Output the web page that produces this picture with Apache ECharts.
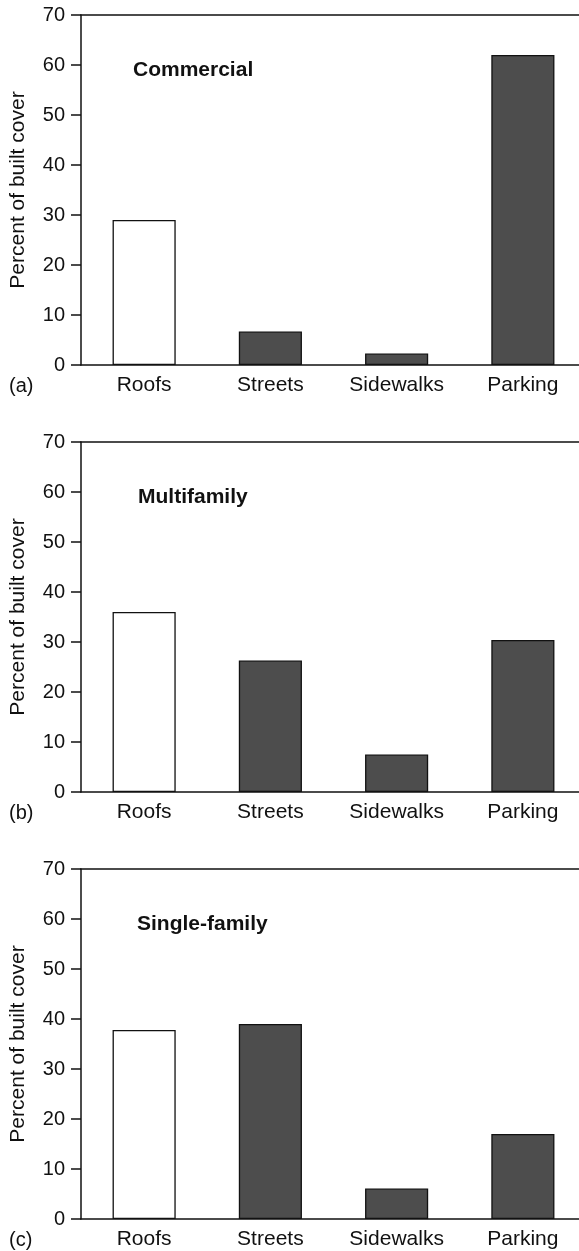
<!DOCTYPE html>
<html>
<head>
<meta charset="utf-8">
<script src="https://cdn.jsdelivr.net/npm/echarts@6/dist/echarts.min.js"></script>
<style>
  html, body { margin: 0; padding: 0; background: #ffffff; }
  #chart { width: 579px; height: 1251px; }
</style>
</head>
<body>
<div id="chart"></div>
<script>
// Built cover composition by land use (percent of built cover)
const categories = ['Roofs', 'Streets', 'Sidewalks', 'Parking'];
const commercial = [29, 6.7, 2.3, 62];
const multifamily = [36, 26.3, 7.5, 30.4];
const singleFamily = [37.8, 39, 6.1, 17];
const panelTitles = ['Commercial', 'Multifamily', 'Single-family'];
const panelLetters = ['(a)', '(b)', '(c)'];
const yTicks = [0, 10, 20, 30, 40, 50, 60, 70];

const panels = [commercial, multifamily, singleFamily];
const gridTops = [15, 442, 869];
const titleLefts = [133, 138, 137];
const plotHeight = 350;
const plotLeft = 81;
const plotWidth = 505;
const ink = '#111111';
const fontFamily = 'Liberation Sans, Arial, Helvetica, sans-serif';

const grids = [], xAxes = [], yAxes = [], series = [], titles = [];

panels.forEach((values, i) => {
  grids.push({
    left: plotLeft, top: gridTops[i], width: plotWidth, height: plotHeight,
    containLabel: false, outerBoundsMode: 'none'
  });

  // category axis along the bottom
  xAxes.push({
    type: 'category', gridIndex: i, data: categories, position: 'bottom',
    axisLine: { show: true, lineStyle: { color: ink, width: 1.5 } },
    axisTick: { show: false },
    axisLabel: { color: ink, fontSize: 21, fontFamily, margin: 10 },
    splitLine: { show: false }
  });
  // plain rule along the top of the plot
  xAxes.push({
    type: 'category', gridIndex: i, data: categories, position: 'top',
    axisLine: { show: true, lineStyle: { color: ink, width: 1.5 } },
    axisTick: { show: false }, axisLabel: { show: false }, splitLine: { show: false }
  });

  yAxes.push({
    type: 'value', gridIndex: i, min: yTicks[0], max: yTicks[yTicks.length - 1], interval: yTicks[1] - yTicks[0],
    name: 'Percent of built cover', nameLocation: 'middle', nameGap: 52, nameRotate: 90,
    nameTextStyle: { color: ink, fontSize: 21, fontFamily },
    axisLine: { show: true, lineStyle: { color: ink, width: 1.5 } },
    axisTick: { show: true, inside: false, length: 10, lineStyle: { color: ink, width: 1.5 } },
    axisLabel: { color: ink, fontSize: 20, fontFamily, margin: 16 },
    splitLine: { show: false }
  });

  series.push({
    type: 'bar', xAxisIndex: i * 2, yAxisIndex: i, barWidth: '50%',
    data: values.map((v, k) => ({
      value: v,
      itemStyle: k === 0
        ? { color: '#ffffff', borderColor: ink, borderWidth: 1.3 }
        : { color: '#4d4d4d', borderColor: ink, borderWidth: 1.3 }
    })),
    silent: true, animation: false
  });

  titles.push({
    text: panelTitles[i], left: titleLefts[i], top: gridTops[i] + 45, padding: 0,
    textStyle: { color: ink, fontSize: 21, fontWeight: 'bold', fontFamily }
  });
  titles.push({
    text: panelLetters[i], left: 9, top: gridTops[i] + plotHeight + 11, padding: 0,
    textStyle: { color: ink, fontSize: 20, fontWeight: 'normal', fontFamily }
  });
});

const chart = echarts.init(document.getElementById('chart'), null, { renderer: 'canvas' });
chart.setOption({
  backgroundColor: '#ffffff',
  animation: false,
  title: titles,
  grid: grids,
  xAxis: xAxes,
  yAxis: yAxes,
  series: series
});
</script>
</body>
</html>
